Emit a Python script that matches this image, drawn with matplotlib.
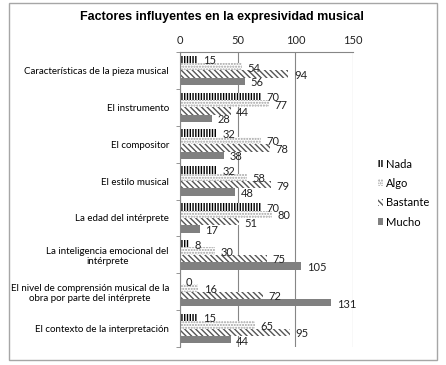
import matplotlib.pyplot as plt
import matplotlib.patches as mpatches
import numpy as np

# Chart data
categories = [
    "Características de la pieza musical",
    "El instrumento",
    "El compositor",
    "El estilo musical",
    "La edad del intérprete",
    "La inteligencia emocional del\nintérprete",
    "El nivel de comprensión musical de la\nobra por parte del intérprete",
    "El contexto de la interpretación",
]
series_names = ["Nada", "Algo", "Bastante", "Mucho"]
nada = [15, 70, 32, 32, 70, 8, 0, 15]
algo = [54, 77, 70, 58, 80, 30, 16, 65]
bastante = [94, 44, 78, 79, 51, 75, 72, 95]
mucho = [56, 28, 38, 48, 17, 105, 131, 44]
x_ticks = [0, 50, 100, 150]

plt.rcParams['font.family'] = ['Lato', 'DejaVu Sans']
plt.rcParams['hatch.linewidth'] = 1.0

fig = plt.figure(figsize=(4.46, 3.65), dpi=100)
ax = fig.add_axes([180 / 446, 1 - 347 / 365, 173 / 446, 295 / 365])

# outer chart border
fig.patches.append(mpatches.Rectangle((9 / 446, 1 - 360 / 365), 428 / 446, 357 / 365,
                                      transform=fig.transFigure, fill=False,
                                      edgecolor='#a6a6a6', linewidth=1.0))

styles = [
    dict(facecolor='white', edgecolor='black', hatch='||||||'),
    dict(facecolor='white', edgecolor='#a0a0a0', hatch='......'),
    dict(facecolor='white', edgecolor='#555555', hatch='\\\\\\\\\\\\'),
    dict(facecolor='#808080', edgecolor='#808080', hatch=None),
]

n = len(categories)
y = np.arange(n)
h = 0.2
all_vals = [nada, algo, bastante, mucho]
for i, (vals, st) in enumerate(zip(all_vals, styles)):
    pos = y - 0.3 + i * h
    bars = ax.barh(pos, vals, height=h, linewidth=0, label=series_names[i], **st)
    for b, v in zip(bars, vals):
        ax.annotate(str(v), (v, b.get_y() + h / 2), xytext=(4, -1),
                    textcoords='offset points', va='center', ha='left',
                    fontsize=8, color='#222222')

ax.set_xlim(0, 150)
ax.set_ylim(n - 0.5, -0.5)
ax.set_xticks(x_ticks)
ax.xaxis.tick_top()
ax.tick_params(axis='x', length=0, labelsize=8, pad=4, colors='#222222')
ax.grid(axis='x', color='#868686', linewidth=0.8)
ax.set_axisbelow(True)

ax.set_yticks(y)
ax.set_yticklabels(categories, fontsize=7.0, ha='right', multialignment='center')
ax.set_yticks(np.arange(n + 1) - 0.5, minor=True)
ax.tick_params(axis='y', which='major', length=0, pad=8)
ax.tick_params(axis='y', which='minor', length=3, color='#868686', direction='out')

for s in ['right', 'bottom']:
    ax.spines[s].set_visible(False)
ax.spines['left'].set_color('#868686')
ax.spines['top'].set_color('#868686')

fig.text(222 / 446, 1 - 17 / 365, "Factores influyentes en la expresividad musical",
         ha='center', va='center', fontsize=9.0, fontweight='bold',
         family=['Liberation Sans', 'DejaVu Sans'])

fig.legend(loc='center left', bbox_to_anchor=(368 / 446, 1 - 193 / 365), frameon=False,
           fontsize=8, handlelength=0.45, handleheight=0.6, handletextpad=0.3,
           labelspacing=0.75)

fig.savefig('out.png', dpi=100)
